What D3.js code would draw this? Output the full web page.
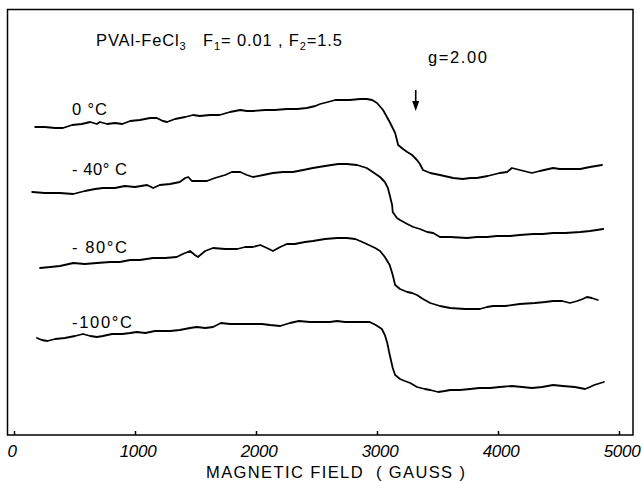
<!DOCTYPE html>
<html><head><meta charset="utf-8">
<script src="https://cdn.jsdelivr.net/npm/d3@7"></script>
<style>body{margin:0;background:#fff} svg{display:block}</style>
</head><body><svg id="c" width="642" height="481"></svg>
<script>
// Magnetic field (gauss) and ESR signal (arbitrary units, offset per trace)
const fields0 = [175,255,340,405,480,560,630,685,710,770,835,895,960,1040,1125,1180,1230,1265,1330,1415,1480,1535,1620,1700,1785,1870,1925,1975,2075,2155,2255,2340,2420,2490,2530,2595,2655,2710,2775,2860,2915,2960,3000,3050,3105,3150,3175,3215,3250,3290,3330,3355,3380,3440,3520,3630,3710,3770,3825,3915,4015,4075,4115,4180,4280,4345,4455,4510,4595,4680,4760,4860];
const values0 = [30.8,30.8,30.7,30.7,31.0,31.1,31.3,31.1,31.3,31.1,31.2,31.1,31.4,31.5,31.7,31.7,31.4,31.3,31.6,31.8,32.0,31.9,32.0,32.0,32.3,32.5,32.4,32.4,32.5,32.5,32.6,32.6,32.7,32.9,33.1,33.3,33.5,33.5,33.5,33.6,33.6,33.5,33.2,32.5,31.3,30.2,29.0,28.6,28.3,28.0,27.5,27.1,26.5,26.2,26.0,25.7,25.6,25.7,25.7,25.9,26.2,26.3,26.7,26.5,26.2,26.4,26.7,26.6,26.6,26.6,26.8,27.0];

const fields40 = [150,255,380,490,585,670,735,835,915,1000,1100,1150,1205,1290,1370,1415,1440,1470,1510,1595,1660,1745,1800,1870,1925,1975,2060,2140,2225,2305,2390,2470,2570,2680,2750,2835,2915,2965,3025,3065,3090,3105,3125,3130,3165,3190,3250,3300,3355,3415,3465,3520,3605,3745,3825,3910,3990,4100,4180,4290,4370,4455,4555,4680,4760,4870];
const values40 = [24.3,24.2,24.2,24.1,24.4,24.6,24.7,24.7,24.9,24.8,25.0,24.7,25.0,25.1,25.3,25.7,25.8,25.4,25.4,25.4,25.7,26.0,26.3,26.3,26.0,25.8,26.0,26.2,26.3,26.3,26.5,26.7,26.9,27.1,27.1,27.0,26.7,26.3,25.8,25.3,24.7,24.0,23.0,22.3,21.7,21.5,21.1,20.8,20.6,20.3,20.2,19.8,19.8,19.7,19.8,19.8,19.9,19.9,20.0,20.1,20.1,20.2,20.2,20.3,20.4,20.6];

const fields80 = [215,300,380,490,585,685,795,875,960,1040,1150,1250,1345,1395,1455,1495,1520,1580,1645,1745,1845,1910,1975,2035,2090,2140,2200,2255,2320,2405,2470,2570,2670,2750,2820,2860,2915,2985,3025,3065,3105,3130,3150,3190,3250,3290,3330,3380,3440,3520,3605,3725,3850,3910,3960,4060,4180,4305,4390,4455,4530,4595,4655,4700,4735,4775,4825];
const values80 = [16.7,16.8,16.9,17.2,17.1,17.2,17.3,17.3,17.5,17.5,17.7,17.7,17.8,18.1,18.4,18.0,17.8,18.4,18.7,18.6,18.6,18.8,18.8,19.0,18.7,18.4,18.8,19.1,19.1,19.3,19.4,19.6,19.7,19.7,19.6,19.4,19.1,18.7,18.4,17.8,17.0,16.0,15.0,14.6,14.3,14.2,14.0,13.6,13.2,12.9,12.7,12.6,12.6,12.8,12.9,12.9,13.1,13.2,13.3,13.4,13.4,13.2,13.4,13.6,13.8,13.7,13.5];

const fields100 = [190,230,275,340,420,505,570,630,685,735,810,895,960,1015,1085,1165,1225,1290,1370,1455,1510,1580,1645,1710,1785,1870,1975,2050,2115,2200,2280,2355,2445,2530,2610,2670,2735,2820,2875,2940,2990,3040,3065,3085,3100,3115,3130,3150,3190,3230,3275,3330,3395,3440,3505,3560,3605,3685,3770,3845,3935,4015,4115,4200,4280,4365,4455,4535,4635,4720,4760,4795,4875];
const values100 = [9.7,9.5,9.4,9.6,9.7,9.9,10.1,9.9,9.8,9.9,10.1,10.1,10.2,10.3,10.2,10.4,10.4,10.4,10.5,10.7,10.8,10.7,10.8,11.2,11.1,11.1,11.1,11.1,11.0,10.9,11.2,11.4,11.3,11.3,11.3,11.4,11.3,11.3,11.3,11.3,11.0,10.6,10.0,9.2,8.3,7.5,6.7,6.0,5.6,5.4,5.2,4.8,4.6,4.5,4.3,4.4,4.5,4.5,4.6,4.7,4.7,4.8,4.9,4.8,4.7,4.8,5.0,4.9,4.8,4.6,4.8,5.0,5.3];

const seriesLabels = ["0 °C", "- 40° C", "- 80°C", "-100°C"];
const xTicks = [0, 1000, 2000, 3000, 4000, 5000];
const gMarkerField = 3320;
const gMarkerLabel = "g=2.00";
const xTitle = "MAGNETIC FIELD  ( GAUSS )";

const svg = d3.select("#c");
const x = d3.scaleLinear().domain([0, 5000]).range([14, 619]);
const y = d3.scaleLinear().domain([0, 42.5]).range([435, 10]);

const FONT = "'Liberation Sans', Arial, sans-serif";

// frame
svg.append("rect").attr("x", 7.5).attr("y", 9.5).attr("width", 625.5).attr("height", 425.5)
  .attr("fill", "none").attr("stroke", "#000").attr("stroke-width", 1.5);

// bottom axis with inward ticks
const axis = d3.axisBottom(x).tickValues(xTicks).tickSizeInner(-4).tickSizeOuter(0).tickFormat("");
const gAx = svg.append("g").attr("transform", "translate(0,435)").call(axis);
gAx.select(".domain").remove();
gAx.selectAll("line").attr("stroke", "#000").attr("stroke-width", 1.5);
svg.append("g").selectAll("text").data(xTicks).join("text")
  .attr("x", d => x(d) + (d === 0 ? -2 : 3)).attr("y", 457)
  .attr("text-anchor", "middle")
  .attr("font-family", FONT).attr("font-size", 17).attr("font-style", "italic")
  .attr("letter-spacing", -0.3)
  .text(d => d3.format("d")(d));

svg.append("text").attr("x", 206).attr("y", 478)
  .attr("font-family", FONT).attr("font-size", 16.5)
  .attr("textLength", 259).attr("lengthAdjust", "spacing")
  .attr("style", "white-space:pre")
  .text(xTitle);

// traces
const series = [
  { f: fields0, v: values0 },
  { f: fields40, v: values40 },
  { f: fields80, v: values80 },
  { f: fields100, v: values100 }
];
const line = d3.line().x(d => x(d[0])).y(d => y(d[1]));
svg.append("g").selectAll("path").data(series).join("path")
  .attr("d", s => line(s.f.map((f, i) => [f, s.v[i]])))
  .attr("fill", "none").attr("stroke", "#000").attr("stroke-width", 1.8)
  .attr("stroke-linejoin", "round").attr("stroke-linecap", "round");

// trace labels
const labelPos = [[72, 115], [72, 175], [72, 253], [72, 328]];
const labelLen = [35, 55, 55, 60];
svg.append("g").selectAll("text").data(seriesLabels).join("text")
  .attr("x", (d, i) => labelPos[i][0]).attr("y", (d, i) => labelPos[i][1])
  .attr("font-family", FONT).attr("font-size", 16.5)
  .attr("textLength", (d, i) => labelLen[i]).attr("lengthAdjust", "spacing")
  .attr("style", "white-space:pre")
  .text(d => d);

// sample title
const t = svg.append("text").attr("x", 96).attr("y", 46)
  .attr("font-family", FONT).attr("font-size", 16.5).attr("style", "white-space:pre")
  .attr("textLength", 246).attr("lengthAdjust", "spacing");
t.append("tspan").text("PVAl-FeCl");
t.append("tspan").attr("font-size", 11).attr("dy", 4).text("3");
t.append("tspan").attr("dy", -4).text("   F");
t.append("tspan").attr("font-size", 11).attr("dy", 4).text("1");
t.append("tspan").attr("dy", -4).text("= 0.01 , F");
t.append("tspan").attr("font-size", 11).attr("dy", 4).text("2");
t.append("tspan").attr("dy", -4).text("=1.5");

// g = 2.00 marker
svg.append("text").attr("x", 428).attr("y", 63)
  .attr("font-family", FONT).attr("font-size", 16.5)
  .attr("textLength", 59).attr("lengthAdjust", "spacing")
  .text(gMarkerLabel);
const ax = x(gMarkerField);
svg.append("line").attr("x1", ax).attr("x2", ax).attr("y1", 90).attr("y2", 108)
  .attr("stroke", "#000").attr("stroke-width", 1.6);
svg.append("path")
  .attr("d", `M${ax - 3.5},${101} L${ax + 3.5},${101} L${ax},${111} Z`)
  .attr("fill", "#000");
</script>
</body></html>
